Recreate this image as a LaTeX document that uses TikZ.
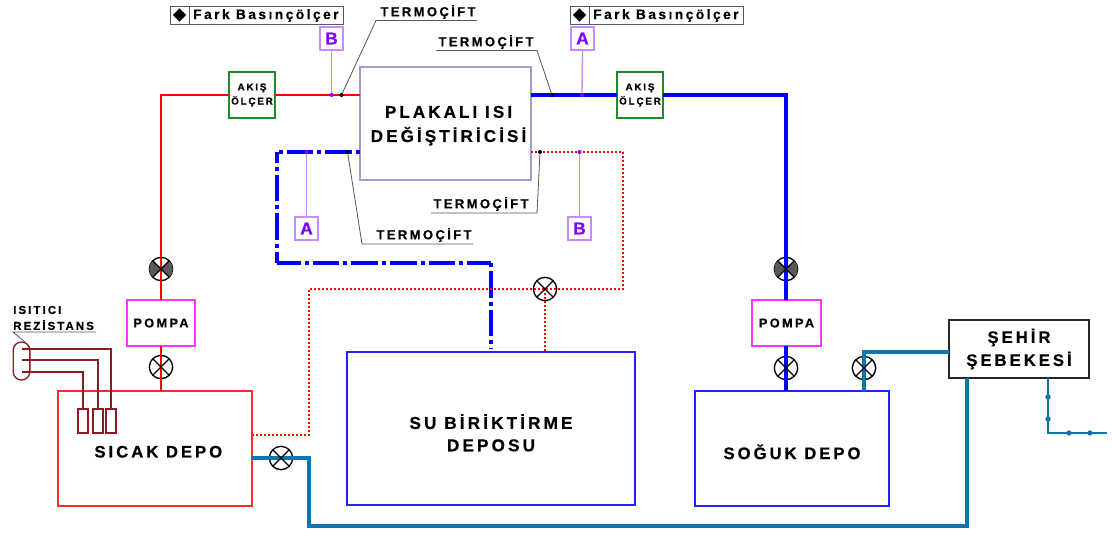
\documentclass[tikz,border=0pt]{standalone}
\usepackage{fontspec}
\usetikzlibrary{shapes.geometric,calc}
\newfontfamily\lblfont[LetterSpace=18,FakeBold=0.5]{Liberation Sans Bold}
\definecolor{teal1}{HTML}{0F75AD}
\definecolor{purp}{HTML}{8000FF}
\definecolor{lpurp}{HTML}{C88CFF}
\definecolor{hxc}{HTML}{A09CD0}
\definecolor{grn}{HTML}{1E8A28}
\definecolor{mag}{HTML}{FF33FF}
\definecolor{dred}{HTML}{8C1C24}
\definecolor{hred}{HTML}{FF2A2A}
\definecolor{tblue}{HTML}{2222FF}
\definecolor{lead}{HTML}{555555}
\newcommand\fs[1]{\lblfont\fontsize{#1}{\the\dimexpr #1pt*13/10\relax}\selectfont}
% box from pixel corners
\newcommand\bx[6]{%
 \pgfmathsetmacro\bxw{(#4-#2)*0.75}\pgfmathsetmacro\bxh{(#5-#3)*0.75}%
 \node[#1,minimum width=\bxw pt,minimum height=\bxh pt] (#6) at ({(#2+#4)/2},{(#3+#5)/2})}
\tikzset{
 x=0.75pt,y=-0.75pt,
 base/.style={draw,inner sep=0pt,outer sep=0pt,rectangle,align=center,text=black},
 hxbox/.style={base,draw=hxc,line width=1.1pt,font=\fs{12.8}},
 flow/.style={base,draw=grn,line width=1.1pt,font=\fs{7.4}},
 pump/.style={base,draw=mag,line width=1.1pt,font=\fs{9.6}},
 hot/.style={base,draw=hred,line width=1.1pt,font=\fs{12.5}},
 cold/.style={base,draw=tblue,line width=1.1pt,font=\fs{12.5}},
 city/.style={base,draw=black!85,line width=1.1pt,font=\fs{12.5}},
 tag/.style={base,draw=lpurp,line width=1pt,text=purp,font=\fs{13}},
 fark/.style={base,draw=black!65,line width=.7pt},
 res/.style={base,draw=dred,line width=1pt},
 redp/.style={draw=red,line width=2.2pt},
 bluep/.style={draw=blue,line width=3.3pt},
 tealp/.style={draw=teal1,line width=2.9pt},
 reddot/.style={draw=red,line width=1.1pt,dash pattern=on 1.5pt off 1.5pt},
 bluedash/.style={draw=blue,line width=3pt,dash pattern=on 20pt off 3pt on 3pt off 3pt,dash phase=#1},
 tagline/.style={draw=lpurp,line width=1pt},
 leadline/.style={draw=lead,line width=.6pt},
 resline/.style={draw=dred,line width=1pt},
 valve/.style={circle,draw=black,line width=1pt,minimum size=17.5pt,inner sep=0pt,outer sep=0pt},
 tdot/.style={circle,fill=black,inner sep=0pt,minimum size=3pt},
 pdot/.style={circle,fill=purp,inner sep=0pt,minimum size=3pt},
 tealdot/.style={circle,fill=teal1,inner sep=0pt,minimum size=4pt},
 tclabel/.style={inner sep=0pt,text=black,font=\fs{9.8}},
}
\newcommand\crossv[1]{\draw[line width=1pt] (#1.45)--(#1.225) (#1.135)--(#1.315);}
\newcommand\darkv[1]{\fill[black!65] (#1.center)--(#1.135) arc (135:225:8.75pt)--cycle (#1.center)--(#1.45) arc (45:-45:8.75pt)--cycle;\crossv{#1}}
\begin{document}
\begin{tikzpicture}
\useasboundingbox[fill=white] (0,0) rectangle (1112,533);
% boxes
\bx{hxbox}{360}{67}{531}{180}{hx} {\rule{0pt}{12.2pt}\hspace*{4.5pt}PLAKALI ISI\\[1.5pt]\hspace*{4.5pt}DEĞİŞTİRİCİSİ};
\bx{flow}{229}{72}{275}{118}{akisL} {AKIŞ\\[1pt]ÖLÇER};
\bx{flow}{617}{72}{663}{118}{akisR} {AKIŞ\\[1pt]ÖLÇER};
\bx{pump}{127}{300}{195}{346}{pompaL} {POMPA};
\bx{pump}{752}{300}{821}{346}{pompaR} {POMPA};
\bx{hot}{58}{391}{252}{506}{sicak} {\rule{0pt}{13.6pt}\hspace*{5pt}SICAK DEPO};
\bx{cold,font=\fs{12.9}}{347}{352}{635}{505}{su} {\rule{0pt}{17.5pt}SU BİRİKTİRME\\DEPOSU};
\bx{cold}{695}{391}{889}{506}{soguk} {\rule{0pt}{16pt}SOĞUK DEPO};
\bx{city}{949}{320}{1089}{378}{sehir} {ŞEHİR\\[1pt]ŞEBEKESİ};
% tags
\bx{tag}{320}{27}{343}{50}{tagB1} {B};
\bx{tag}{571}{27}{594}{50}{tagA1} {A};
\bx{tag}{295}{217}{318}{240}{tagA2} {A};
\bx{tag}{568}{217}{591}{240}{tagB2} {B};
% fark
\bx{fark}{170}{6}{343}{24}{farkL} {};
\bx{fark}{570}{6}{743}{24}{farkR} {};
\node[anchor=west,inner sep=0pt,font=\fs{10.3}] (farkLt) at (193,15.5) {Fark Basınçölçer};
\node[anchor=west,inner sep=0pt,font=\fs{10.3}] (farkRt) at (593,15.5) {Fark Basınçölçer};
\node[diamond,fill=black,inner sep=0pt,minimum size=10pt] (dL) at (179.5,15) {};
\node[diamond,fill=black,inner sep=0pt,minimum size=10pt] (dR) at (579.5,15) {};
\coordinate (dvLa) at (189,6); \coordinate (dvLb) at (189,24);
\coordinate (dvRa) at (589,6); \coordinate (dvRb) at (589,24);
\draw[black!65,line width=.7pt] (dvLa)--(dvLb) (dvRa)--(dvRb);
% valves
\node[valve] (vd1) at (161,269) {};
\node[valve] (vd2) at (786,269) {};
\node[valve] (v1) at (161,367) {};
\node[valve] (v2) at (786,368) {};
\node[valve] (v3) at (864,368) {};
\node[valve] (v4) at (281,458) {};
\node[valve] (v5) at (545,289) {};
% waypoints
\coordinate (rc) at (161,95);
\coordinate (bc) at (786,95);
% red hot loop
\draw[redp] (sicak.north -| v1) -- (v1.center) -- (pompaL.south -| v1);
\draw[redp,line join=round] (pompaL.north -| vd1) -- (vd1.center) -- (rc) -- (akisL.west);
\draw[redp] (akisL.east) -- (hx.west |- akisL);
% blue loop
\draw[bluep] (hx.east |- akisR) -- (akisR.west);
\draw[bluep,line join=miter] (akisR.east) -- (bc) -- (vd2.center) -- (pompaR.north -| vd2);
\draw[bluep] (pompaR.south -| v2) -- (v2.center) -- (soguk.north -| v2);
% dashed blue
\coordinate (d1) at (360,152); \coordinate (d2) at (277,152);
\coordinate (d3) at (277,263); \coordinate (d4) at (491,263); \coordinate (d5) at (491,349);
\draw[bluedash=23pt] (d1) -- (d2);
\draw[bluedash=12pt] (d2) -- (d3);
\draw[bluedash=2.2pt] (d3) -- (d4);
\draw[bluedash=23pt] (d4) -- (d5);
% dotted red
\coordinate (r1) at (531,152); \coordinate (r2) at (623,152); \coordinate (r3) at (623,289);
\coordinate (r4) at (309,289); \coordinate (r5) at (309,435); \coordinate (r6) at (252,435);
\draw[reddot] (r1) -- (r2) -- (r3) -- (r4) -- (r5) -- (r6);
\draw[reddot] (v5.center) -- (su.north -| v5);
% teal
\coordinate (t1) at (309,458); \coordinate (t2) at (309,526); \coordinate (t3) at (967,526); \coordinate (t4) at (967,378);
\draw[tealp,line join=miter] (252,458) -- (t1) -- (t2) -- (t3) -- (t4);
\coordinate (t5) at (864,352);
\draw[tealp,line join=miter] (soguk.north -| v3) -- (t5) -- (sehir.west |- t5);
\coordinate (t6) at (1048,378); \coordinate (t7) at (1048,433); \coordinate (t8) at (1107,433);
\draw[teal1,line width=1.9pt] (t6) -- (t7) -- (t8);
\foreach \n/\p in {a/{1048,397},b/{1048,419},c/{1069,433},d/{1090,433}} \node[tealdot] (td\n) at (\p) {};
% tag lines
\coordinate (pB1) at (331.5,95); \coordinate (pA1) at (582,95); \coordinate (pA2) at (306.5,152); \coordinate (pB2) at (579.5,152);
\draw[tagline] (tagB1.south) -- (pB1);
\draw[tagline] (tagA1.south) -- (pA1);
\draw[tagline] (tagA2.north) -- (pA2);
\draw[tagline] (tagB2.north) -- (pB2);
\foreach \n in {pB1,pA1,pA2,pB2} \node[pdot] at (\n) {};
% thermocouples
\node[tclabel] (tc1) at (428,12) {TERMOÇİFT};
\node[tclabel] (tc2) at (486,42) {TERMOÇİFT};
\node[tclabel] (tc3) at (424,235) {TERMOÇİFT};
\node[tclabel] (tc4) at (481,204) {TERMOÇİFT};
\node[tdot] (k1) at (341.5,95) {};
\node[tdot] (k2) at (552,95) {};
\node[tdot] (k3) at (347.5,152) {};
\node[tdot] (k4) at (540,152) {};
\coordinate (l1a) at (376,20.5); \coordinate (l1b) at (477,20.5);
\coordinate (l2a) at (537,50.5); \coordinate (l2b) at (436,50.5);
\coordinate (l3a) at (362,244); \coordinate (l3b) at (473,244);
\coordinate (l4a) at (537,213); \coordinate (l4b) at (431,213);
\draw[leadline] (k1) -- (l1a) -- (l1b);
\draw[leadline] (k2) -- (l2a) -- (l2b);
\draw[leadline] (k3) -- (l3a) -- (l3b);
\draw[leadline] (k4) -- (l4a) -- (l4b);
% valve marks
\darkv{vd1}\darkv{vd2}
\crossv{v1}\crossv{v2}\crossv{v3}\crossv{v4}\crossv{v5}
% heater
\node[inner sep=0pt,anchor=west,font=\fs{8.6}] (isi) at (13,310) {ISITICI};
\node[inner sep=0pt,anchor=west,font=\fs{8.6}] (rez) at (13,325) {REZİSTANS};
\coordinate (u1) at (13,332); \coordinate (u2) at (96,332); \coordinate (u3) at (25,342);
\draw[lead,line width=.6pt] (u3) -- (u1) -- (u2);
\node[rectangle,rounded corners=6.2pt,draw=dred,line width=1pt,minimum width=12.5pt,minimum height=28.5pt,inner sep=0pt,outer sep=0pt] (cap) at (21.5,361) {};
\bx{res}{78}{409}{88}{433}{r1b} {};
\bx{res}{93}{409}{103}{433}{r2b} {};
\bx{res}{106}{409}{116}{433}{r3b} {};
\coordinate (c1) at (21.5,349); \coordinate (c2) at (21.5,360); \coordinate (c3) at (21.5,372);
\draw[resline] (c1) -- (r3b.north |- c1) -- (r3b.north);
\draw[resline] (c2) -- (r2b.north |- c2) -- (r2b.north);
\draw[resline] (c3) -- (r1b.north |- c3) -- (r1b.north);
\end{tikzpicture}
\end{document}
